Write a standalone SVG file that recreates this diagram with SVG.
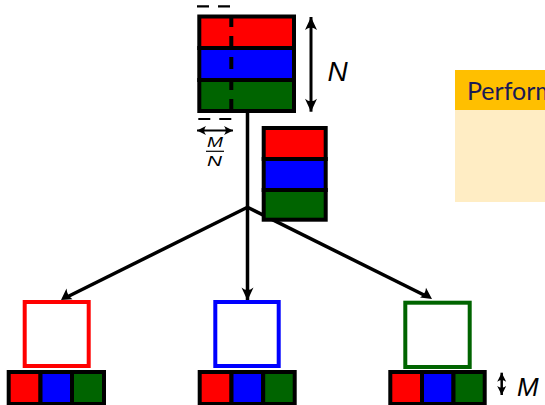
<svg xmlns="http://www.w3.org/2000/svg" width="545" height="405" viewBox="0 0 545 405">
<defs>
<style>
.cell{stroke:#000;stroke-width:4}
.r{fill:#ff0000}.b{fill:#0000ff}.g{fill:#006400}
.conn{stroke:#000;stroke-width:3.5;fill:none}
.dim{stroke:#000;fill:none}
.lbl{font-family:"Liberation Sans",Arial,sans-serif;font-style:italic;fill:#000}
</style>
<marker id="ah" markerUnits="userSpaceOnUse" markerWidth="20" markerHeight="16" viewBox="-15 -8 16 16" refX="0" refY="0" orient="auto-start-reverse">
<path d="M0,0 L-13,-6 Q-8,0 -13,6 Z" fill="#000"/>
</marker>
<marker id="ahs" markerUnits="userSpaceOnUse" markerWidth="12" markerHeight="12" viewBox="-11 -6 12 12" refX="0" refY="0" orient="auto-start-reverse">
<path d="M0,0 L-9,-4.5 Q-5.5,0 -9,4.5 Z" fill="#000"/>
</marker>
</defs>
<rect width="545" height="405" fill="#fff"/>

<g id="perf-box">
<rect x="455" y="110" width="95" height="92" fill="#ffedc4"/>
<rect x="455" y="70" width="95" height="40" fill="#ffbf00"/>
<text x="467" y="100" font-family="Lato,'Open Sans',sans-serif" font-size="25" fill="#1a1a55">Perform</text>
</g>

<g id="connectors">
<line class="conn" x1="247.5" y1="112" x2="247.5" y2="300.5" marker-end="url(#ah)"/>
<line class="conn" x1="247.5" y1="207.3" x2="66" y2="297.5"/>
<path d="M61,300 L66.5,288.5 Q67,295.5 72.5,299.3 Z" fill="#000"/>
<line class="conn" x1="247.5" y1="207.3" x2="427" y2="296.5"/>
<path d="M432,299 L420,297.5 Q425.5,294.3 426,287.8 Z" fill="#000"/>
</g>

<g id="top-stack">
<rect class="cell r" x="199.3" y="16.5" width="94.7" height="31.5"/>
<rect class="cell b" x="199.3" y="48" width="94.7" height="32"/>
<rect class="cell g" x="199.3" y="80" width="94.7" height="31"/>
<line x1="197" y1="6.3" x2="233" y2="6.3" stroke="#000" stroke-width="2.2" stroke-dasharray="12 9"/>
<line x1="231.3" y1="119" x2="196" y2="119" stroke="#000" stroke-width="2.2" stroke-dasharray="12 9"/>
<line x1="231.3" y1="6" x2="231.3" y2="119" stroke="#000" stroke-width="4" stroke-dasharray="12 9" stroke-dashoffset="12"/>
</g>

<g id="n-dim">
<line class="dim" x1="311" y1="17" x2="311" y2="111.7" stroke-width="3" marker-start="url(#ah)" marker-end="url(#ah)"/>
<text class="lbl" x="327.5" y="80.5" font-size="28">N</text>
</g>

<g id="mn-dim">
<line class="dim" x1="197" y1="130.5" x2="233" y2="130.5" stroke-width="2.2" marker-start="url(#ahs)" marker-end="url(#ahs)"/>
<text class="lbl" x="207" y="147" font-size="14" textLength="16" lengthAdjust="spacingAndGlyphs">M</text>
<line x1="206" y1="151.3" x2="224" y2="151.3" stroke="#000" stroke-width="1.2"/>
<text class="lbl" x="207" y="165.5" font-size="14" textLength="15" lengthAdjust="spacingAndGlyphs">N</text>
</g>

<g id="side-stack">
<rect class="cell r" x="263.7" y="128" width="62" height="31"/>
<rect class="cell b" x="263.7" y="159" width="62" height="31"/>
<rect class="cell g" x="263.7" y="190" width="62" height="29.7"/>
</g>

<g id="red-proc">
<rect x="24.7" y="302" width="64" height="64" fill="#fff" stroke="#ff0000" stroke-width="4"/>
<rect class="cell r" x="8.7" y="372" width="31.8" height="32"/>
<rect class="cell b" x="40.5" y="372" width="31.5" height="32"/>
<rect class="cell g" x="72" y="372" width="32" height="32"/>
</g>

<g id="blue-proc">
<rect x="215.3" y="302" width="63.4" height="64" fill="#fff" stroke="#0000ff" stroke-width="4"/>
<rect class="cell r" x="199.7" y="372" width="31.8" height="32"/>
<rect class="cell b" x="231.5" y="372" width="31.7" height="32"/>
<rect class="cell g" x="263.2" y="372" width="31.5" height="32"/>
</g>

<g id="green-proc">
<rect x="405.3" y="302.7" width="64.4" height="64.3" fill="#fff" stroke="#006400" stroke-width="4"/>
<rect class="cell r" x="390.3" y="372" width="31.7" height="32"/>
<rect class="cell b" x="422" y="372" width="31.5" height="32"/>
<rect class="cell g" x="453.5" y="372" width="31.2" height="32"/>
</g>

<g id="m-dim">
<line class="dim" x1="501.7" y1="372.7" x2="501.7" y2="395" stroke-width="2.5" marker-start="url(#ahs)" marker-end="url(#ahs)"/>
<text class="lbl" x="517" y="396" font-size="26">M</text>
</g>
</svg>
